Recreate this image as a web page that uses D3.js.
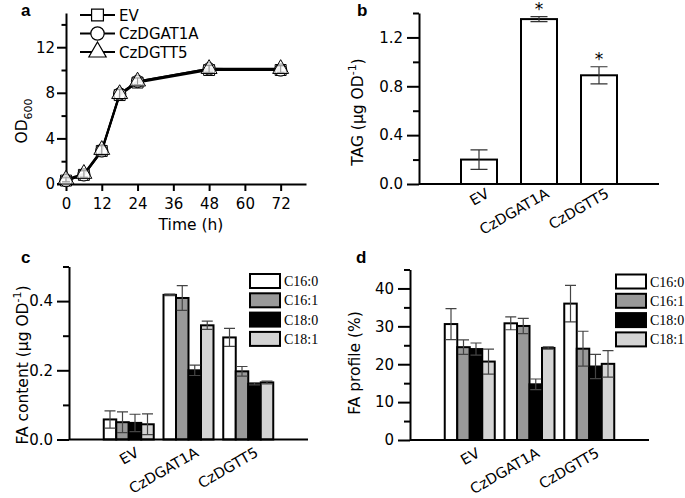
<!DOCTYPE html>
<html>
<head>
<meta charset="utf-8">
<script src="https://cdn.jsdelivr.net/npm/d3@7"></script>
<style>
body{margin:0;background:#fff}
text{font-family:"DejaVu Sans",Arial,sans-serif;fill:#000}
.axis path,.axis line{stroke:#000;stroke-width:2px}
.axis text{font-size:15px;font-family:"DejaVu Sans",Arial,sans-serif}
</style>
</head>
<body>
<div id="chart"></div>
<script>
// ---- data ----
const timePoints = [0, 6, 12, 18, 24, 48, 72];
const odEV      = [0.3, 0.8, 2.9, 7.8, 8.9, 10.0, 10.0];
const odDGAT1A  = [0.3, 0.8, 2.9, 7.9, 9.0, 10.1, 10.0];
const odDGTT5   = [0.4, 0.9, 3.0, 7.9, 9.0, 10.1, 10.1];
const odErr     = [0.2, 0.3, 0.4, 0.4, 0.3, 0.3, 0.3];

const strains   = ["EV", "CzDGAT1A", "CzDGTT5"];
const tagValues = [0.20, 1.35, 0.89];
const tagErr    = [0.08, 0.02, 0.07];
const tagSignif = [false, true, true];

const faNames = ["C16:0", "C16:1", "C18:0", "C18:1"];
const faContent    = [[0.058, 0.050, 0.048, 0.044], [0.418, 0.409, 0.200, 0.330], [0.295, 0.197, 0.161, 0.165]];
const faContentErr = [[0.025, 0.030, 0.025, 0.030], [0.002, 0.036, 0.015, 0.012], [0.026, 0.014, 0.003, 0.004]];
const faProfile    = [[30.6, 24.5, 24.0, 20.7], [30.8, 30.1, 14.7, 24.3], [36.0, 24.1, 19.4, 20.1]];
const faProfileErr = [[4.1, 1.9, 1.6, 3.3], [1.7, 2.0, 1.4, 0.3], [4.8, 4.6, 3.2, 3.5]];

const faColor = d3.scaleOrdinal().domain(faNames).range(["#fff", "#999", "#000", "#d4d4d4"]);

const svg = d3.select("#chart").append("svg").attr("width", 685).attr("height", 498);

function panelLetter(x, y, t) {
    svg.append("text").attr("x", x).attr("y", y).attr("font-size", 17).attr("font-weight", "bold")
        .style("font-family", "Arial,'Liberation Sans',sans-serif").text(t);
}

// y axis with major labelled ticks + minor ticks
function yAxis(scale, x, major, minor, fmt, tMajor, gap) {
    const g = svg.append("g").attr("class", "axis").attr("transform", "translate(" + x + ",0)");
    g.call(d3.axisLeft(scale).tickValues(major).tickFormat(fmt).tickSize(tMajor).tickSizeOuter(0));
    g.selectAll(".tick text").attr("x", -gap);
    const m = svg.append("g").attr("class", "axis").attr("transform", "translate(" + x + ",0)");
    m.call(d3.axisLeft(scale).tickValues(minor).tickFormat("").tickSize(tMajor / 2).tickSizeOuter(0));
    m.select(".domain").remove();
    return g;
}

function yLabel(cx, cy, parts) {
    const t = svg.append("text").attr("transform", "translate(" + cx + "," + cy + ") rotate(-90)")
        .attr("text-anchor", "middle").attr("font-size", 15.5);
    parts.forEach(function (p) {
        const s = t.append("tspan").text(p.t);
        if (p.sub) s.attr("font-size", 11).attr("dy", 5);
        if (p.sup) s.attr("font-size", 11).attr("dy", -7);
        if (p.back) s.attr("dy", p.back);
    });
}

// ================= panel a =================
(function () {
    const x = d3.scaleLinear().domain([0, 80.5]).range([66, 306]);
    const y = d3.scaleLinear().domain([0, 15]).range([184, 13]);
    const gx = svg.append("g").attr("class", "axis").attr("transform", "translate(0,184)")
        .call(d3.axisBottom(x).tickValues([0, 12, 24, 36, 48, 60, 72]).tickSize(7).tickSizeOuter(0));
    gx.selectAll(".tick text").attr("y", 14);
    yAxis(y, 66, [0, 4, 8, 12], [2, 6, 10, 14], d3.format("d"), 9, 11);
    svg.append("line").attr("x1", 57).attr("x2", 66).attr("y1", 184).attr("y2", 184).attr("stroke", "#000").attr("stroke-width", 2);

    const series = [
        {name: "EV", vals: odEV, shape: d3.symbolSquare},
        {name: "CzDGAT1A", vals: odDGAT1A, shape: d3.symbolCircle},
        {name: "CzDGTT5", vals: odDGTT5, shape: d3.symbolTriangle}
    ];
    const line = d3.line().x(function (d) { return x(d[0]); }).y(function (d) { return y(d[1]); });
    series.forEach(function (s) {
        const pts = timePoints.map(function (t, i) { return [t, s.vals[i], odErr[i]]; });
        svg.append("path").datum(pts).attr("d", line).attr("fill", "none").attr("stroke", "#000").attr("stroke-width", 2);
    });
    series.forEach(function (s) {
        const pts = timePoints.map(function (t, i) { return [t, s.vals[i], odErr[i]]; });
        const g = svg.append("g");
        g.selectAll("path.err").data(pts).enter().append("path").attr("class", "err")
            .attr("d", function (d) {
                const cx = x(d[0]), y0 = y(d[1] - d[2]), y1 = y(d[1] + d[2]);
                return "M" + (cx - 4) + "," + y0 + "H" + (cx + 4) + "M" + cx + "," + y0 + "V" + y1 + "M" + (cx - 4) + "," + y1 + "H" + (cx + 4);
            })
            .attr("stroke", "#000").attr("stroke-width", 1).attr("fill", "none");
        g.selectAll("path.pt").data(pts).enter().append("path").attr("class", "pt")
            .attr("transform", function (d) { return "translate(" + x(d[0]) + "," + y(d[1]) + ")"; })
            .attr("d", d3.symbol().type(s.shape).size(s.shape === d3.symbolTriangle ? 110 : 120))
            .attr("fill", "#fff").attr("fill-opacity", 0.6).attr("stroke", "#000").attr("stroke-width", 1);
    });

    // legend
    series.forEach(function (s, i) {
        const ly = 15 + i * 18.5;
        svg.append("line").attr("x1", 80).attr("x2", 115).attr("y1", ly).attr("y2", ly).attr("stroke", "#000").attr("stroke-width", 2);
        svg.append("path").attr("transform", "translate(97.5," + ly + ")")
            .attr("d", d3.symbol().type(s.shape).size(s.shape === d3.symbolTriangle ? 130 : 140))
            .attr("fill", "#fff").attr("stroke", "#000").attr("stroke-width", 1.2);
        svg.append("text").attr("x", 119).attr("y", ly + 5.5).attr("font-size", 15).text(s.name);
    });

    svg.append("text").attr("x", 191).attr("y", 230).attr("text-anchor", "middle").attr("font-size", 15.5).text("Time (h)");
    yLabel(27, 121, [{t: "OD"}, {t: "600", sub: true}]);
    panelLetter(21, 16, "a");
})();

// x axis for bar panels (line only) + rotated category labels
function barXAxis(x, x0, x1, y0, dy) {
    svg.append("line").attr("x1", x0).attr("x2", x1).attr("y1", y0).attr("y2", y0).attr("stroke", "#000").attr("stroke-width", 2);
    strains.forEach(function (s) {
        svg.append("text").attr("transform", "translate(" + (x(s) + 11) + "," + (y0 + dy) + ") rotate(-30)")
            .attr("text-anchor", "end").attr("font-size", 14.5).text(s);
    });
}

function errPath(cx, ylo, yhi, w) {
    return "M" + (cx - w) + "," + ylo + "H" + (cx + w) + "M" + cx + "," + ylo + "V" + yhi + "M" + (cx - w) + "," + yhi + "H" + (cx + w);
}

// ================= panel b =================
(function () {
    const x = d3.scalePoint().domain(strains).range([419, 659]).padding(1);
    const y = d3.scaleLinear().domain([0, 1.4]).range([184, 13]);
    const bw = 36;
    svg.selectAll("rect.tag").data(strains).enter().append("rect").attr("class", "tag")
        .attr("x", function (d) { return x(d) - bw / 2; })
        .attr("y", function (d, i) { return y(tagValues[i]); })
        .attr("width", bw)
        .attr("height", function (d, i) { return y(0) - y(tagValues[i]); })
        .attr("fill", "#fff").attr("stroke", "#000").attr("stroke-width", 2);
    svg.selectAll("path.tagerr").data(strains).enter().append("path").attr("class", "tagerr")
        .attr("d", function (d, i) { return errPath(x(d), y(tagValues[i] - tagErr[i]), y(tagValues[i] + tagErr[i]), 8.5); })
        .attr("stroke", "#333").attr("stroke-width", 1.2).attr("fill", "none");
    svg.selectAll("text.star").data(strains.filter(function (d, i) { return tagSignif[i]; })).enter()
        .append("text").attr("class", "star")
        .attr("x", function (d) { return x(d); })
        .attr("y", function (d) { const i = strains.indexOf(d); return y(tagValues[i] + tagErr[i]) - 2; })
        .attr("text-anchor", "middle").attr("font-size", 17).text("*");
    barXAxis(x, 419, 659, 184, 12.5);
    yAxis(y, 419, [0, 0.4, 0.8, 1.2], [0.2, 0.6, 1.0, 1.4], d3.format(".1f"), 12, 16);
    yLabel(363, 112, [{t: "TAG (μg OD"}, {t: "-1", sup: true}, {t: ")", back: 7}]);
    panelLetter(357, 16, "b");
})();

// ================= grouped panels c, d =================
function groupedPanel(opt) {
    const x = d3.scalePoint().domain(strains).range([opt.x0, opt.x1]).padding(1);
    const y = d3.scaleLinear().domain([0, opt.max]).range([opt.y0, opt.yTop]);
    const inner = d3.scaleBand().domain(faNames).range([-25, 25]).padding(0);
    strains.forEach(function (s, si) {
        const g = svg.append("g").attr("transform", "translate(" + x(s) + ",0)");
        g.selectAll("rect").data(faNames).enter().append("rect")
            .attr("x", function (d) { return inner(d); })
            .attr("y", function (d, i) { return y(opt.vals[si][i]); })
            .attr("width", inner.bandwidth())
            .attr("height", function (d, i) { return opt.y0 - y(opt.vals[si][i]); })
            .attr("fill", function (d) { return faColor(d); })
            .attr("stroke", "#000").attr("stroke-width", 2);
        g.selectAll("path").data(faNames).enter().append("path")
            .attr("d", function (d, i) {
                const v = opt.vals[si][i], e = opt.errs[si][i];
                return errPath(inner(d) + inner.bandwidth() / 2, y(v - e), y(v + e), 5.5);
            })
            .attr("stroke", "#444").attr("stroke-width", 1.2).attr("fill", "none");
    });
    barXAxis(x, opt.x0, opt.x1, opt.y0, 16);
    yAxis(y, opt.x0, opt.major, opt.minor, opt.fmt, 12, 16);

    // legend
    faNames.forEach(function (n, i) {
        const ly = opt.legY + i * 19.3;
        svg.append("rect").attr("x", opt.legX).attr("y", ly).attr("width", 30).attr("height", 14)
            .attr("fill", faColor(n)).attr("stroke", "#000").attr("stroke-width", 2);
        svg.append("text").attr("x", opt.legX + 34).attr("y", ly + 12)
            .style("font-family", "'Times New Roman','Liberation Serif',serif").attr("font-size", 14).text(n);
    });
}

groupedPanel({
    x0: 69, x1: 308, y0: 439.5, yTop: 266.5, max: 0.5,
    vals: faContent, errs: faContentErr,
    major: [0, 0.2, 0.4], minor: [0.1, 0.3, 0.5], fmt: d3.format(".1f"),
    legX: 250, legY: 274
});
yLabel(28, 365, [{t: "FA content (μg OD"}, {t: "-1", sup: true}, {t: ")", back: 7}]);
panelLetter(21, 263, "c");

groupedPanel({
    x0: 410, x1: 649, y0: 440, yTop: 269.5, max: 45,
    vals: faProfile, errs: faProfileErr,
    major: [0, 10, 20, 30, 40], minor: [5, 15, 25, 35, 45], fmt: d3.format("d"),
    legX: 616, legY: 274.5
});
yLabel(360, 363, [{t: "FA profile (%)"}]);
panelLetter(356, 263, "d");
</script>
</body>
</html>
